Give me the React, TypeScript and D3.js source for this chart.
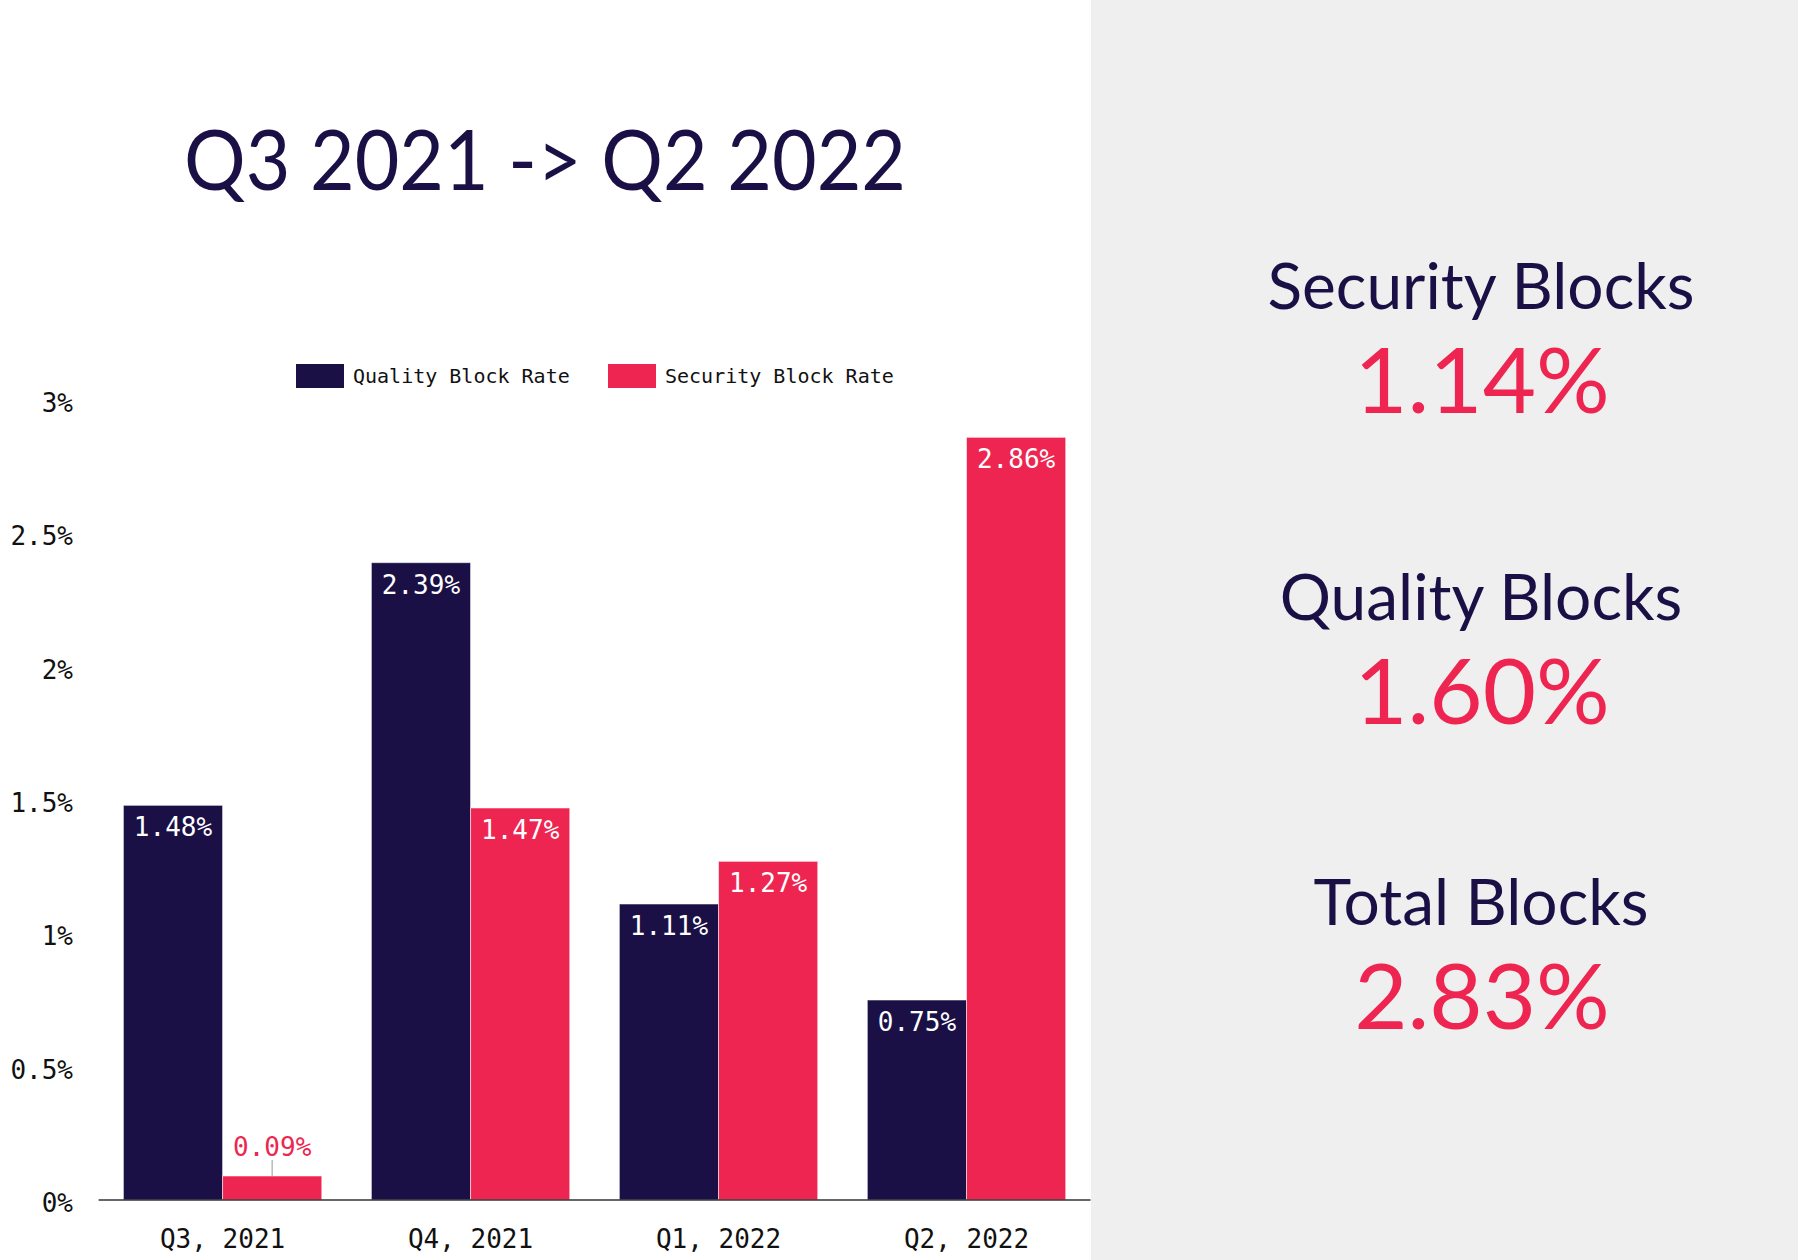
import React from "react";
import * as d3 from "d3";

const categories = ["Q3, 2021", "Q4, 2021", "Q1, 2022", "Q2, 2022"];
const seriesNames = ["Quality Block Rate", "Security Block Rate"];
const qualityRates = [1.48, 2.39, 1.11, 0.75];
const securityRates = [0.09, 1.47, 1.27, 2.86];
const yTicks = [0, 0.5, 1, 1.5, 2, 2.5, 3];
const title = "Q3 2021 -> Q2 2022";
const summaryLabels = ["Security Blocks", "Quality Blocks", "Total Blocks"];
const summaryValues = ["1.14%", "1.60%", "2.83%"];

const NAVY = "#1a1045";
const RED = "#ed2550";
const MONO = "'DejaVu Sans Mono', monospace";
const LATO = "Lato, sans-serif";

export default function App() {
  const W = 1798;
  const H = 1260;
  const panelX = 1091;
  const x = d3.scaleBand<string>().domain(categories).range([98.6, 1090.5]).paddingInner(0.2).paddingOuter(0.1);
  const xs = d3.scaleBand<string>().domain(seriesNames).range([0, x.bandwidth()]);
  const y = d3.scaleLinear().domain([0, 3]).range([1200, 400]);
  const colors = [NAVY, RED];
  const series = [qualityRates, securityRates];
  const fmtTick = (v: number) => `${v}%`;

  const summaryY = [309, 620, 925];

  return (
    <div style={{ position: "absolute", left: 0, top: 0 }}>
      <svg width={W} height={H} style={{ display: "block" }}>
        <rect x={0} y={0} width={W} height={H} fill="#ffffff" />
        <rect x={panelX} y={0} width={W - panelX} height={H} fill="#efefef" />
        <text
          x={545}
          y={190}
          textAnchor="middle"
          fontFamily={LATO}
          fontSize={84}
          fill={NAVY}
          textLength={722}
          lengthAdjust="spacingAndGlyphs"
        >
          {title}
        </text>
        {/* legend */}
        {seriesNames.map((s, i) => {
          const lx = i === 0 ? 296 : 608;
          return (
            <g key={s}>
              <rect x={lx} y={364} width={48} height={24} fill={colors[i]} />
              <text x={lx + 57} y={383} fontFamily={MONO} fontSize={20} fill="#111">
                {s}
              </text>
            </g>
          );
        })}
        {/* y tick labels */}
        {yTicks.map((t) => (
          <text key={t} x={73} y={y(t) + 12} textAnchor="end" fontFamily={MONO} fontSize={26} fill="#111">
            {fmtTick(t)}
          </text>
        ))}
        {/* bars */}
        {categories.map((c, ci) => (
          <g key={c}>
            {seriesNames.map((s, si) => {
              const v = series[si][ci];
              const bx = (x(c) as number) + (xs(s) as number);
              const bw = xs.bandwidth();
              const by = y(v);
              const bh = y(0) - by;
              const label = `${v.toFixed(2)}%`;
              const inside = bh > 40;
              return (
                <g key={s}>
                  <rect
                    x={bx}
                    y={by}
                    width={bw}
                    height={bh}
                    fill={colors[si]}
                    stroke="rgba(255,255,255,0.55)"
                    strokeWidth={1}
                  />
                  {inside ? (
                    <text x={bx + bw / 2} y={by + 31} textAnchor="middle" fontFamily={MONO} fontSize={26} fill="#ffffff">
                      {label}
                    </text>
                  ) : (
                    <g>
                      <line x1={bx + bw / 2} x2={bx + bw / 2} y1={by} y2={by - 16} stroke="#bbbbbb" strokeWidth={1.5} />
                      <text x={bx + bw / 2} y={by - 20} textAnchor="middle" fontFamily={MONO} fontSize={26} fill={colors[si]}>
                        {label}
                      </text>
                    </g>
                  )}
                </g>
              );
            })}
          </g>
        ))}
        {/* x axis */}
        <line x1={98.6} x2={1090.5} y1={y(0)} y2={y(0)} stroke="#333" strokeWidth={1.5} />
        {categories.map((c) => (
          <text
            key={c}
            x={(x(c) as number) + x.bandwidth() / 2}
            y={1248}
            textAnchor="middle"
            fontFamily={MONO}
            fontSize={26}
            fill="#111"
          >
            {c}
          </text>
        ))}
        {/* summary panel */}
        {summaryLabels.map((l, i) => (
          <g key={l}>
            <text x={1481} y={summaryY[i]} textAnchor="middle" fontFamily={LATO} fontSize={64} fill={NAVY}>
              {l}
            </text>
            <text x={1482} y={summaryY[i] + 104} textAnchor="middle" fontFamily={LATO} fontSize={92} fill={RED}>
              {summaryValues[i]}
            </text>
          </g>
        ))}
      </svg>
    </div>
  );
}
